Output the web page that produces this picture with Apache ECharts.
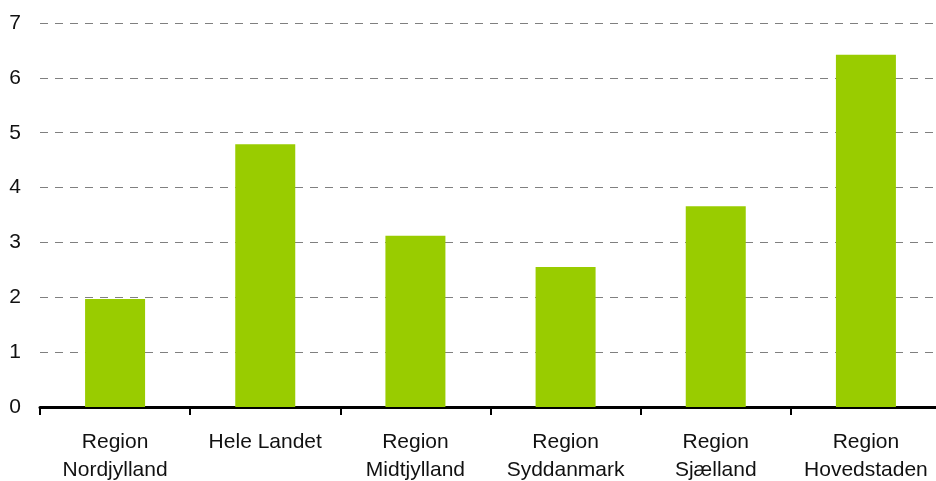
<!DOCTYPE html>
<html><head><meta charset="utf-8">
<script src="https://cdn.jsdelivr.net/npm/echarts@6/dist/echarts.min.js"></script>
<style>html,body{margin:0;padding:0;background:#fff}#c{width:936px;height:481px}</style>
</head><body><div id="c"></div>
<script>
const categories = ["Region\nNordjylland","Hele Landet","Region\nMidtjylland","Region\nSyddanmark","Region\nSjælland","Region\nHovedstaden"];
const values = [1.97, 4.79, 3.12, 2.55, 3.66, 6.42];
const yTicks = [0,1,2,3,4,5,6,7];
const chart = echarts.init(document.getElementById('c'));
chart.setOption({
  animation:false,
  grid:{left:40, top:23, right:-5, bottom:74, containLabel:false, outerBoundsMode:'none'},
  xAxis:{type:'category', data:categories,
    axisLine:{lineStyle:{color:'#000', width:3}},
    axisTick:{show:true, length:8, lineStyle:{color:'#000', width:2}},
    axisLabel:{color:'#111', fontSize:21, fontFamily:'Liberation Sans', lineHeight:28, margin:21, interval:0}},
  yAxis:{type:'value', min:yTicks[0], max:yTicks[yTicks.length-1], interval:1,
    axisLine:{show:false}, axisTick:{show:false},
    axisLabel:{color:'#111', fontSize:21, fontFamily:'Liberation Sans', margin:19},
    splitLine:{lineStyle:{color:'#808080', type:[8,7], width:1}}},
  series:[{type:'bar', data:values, barWidth:60, itemStyle:{color:'#99CC00'}}]
});
</script></body></html>
